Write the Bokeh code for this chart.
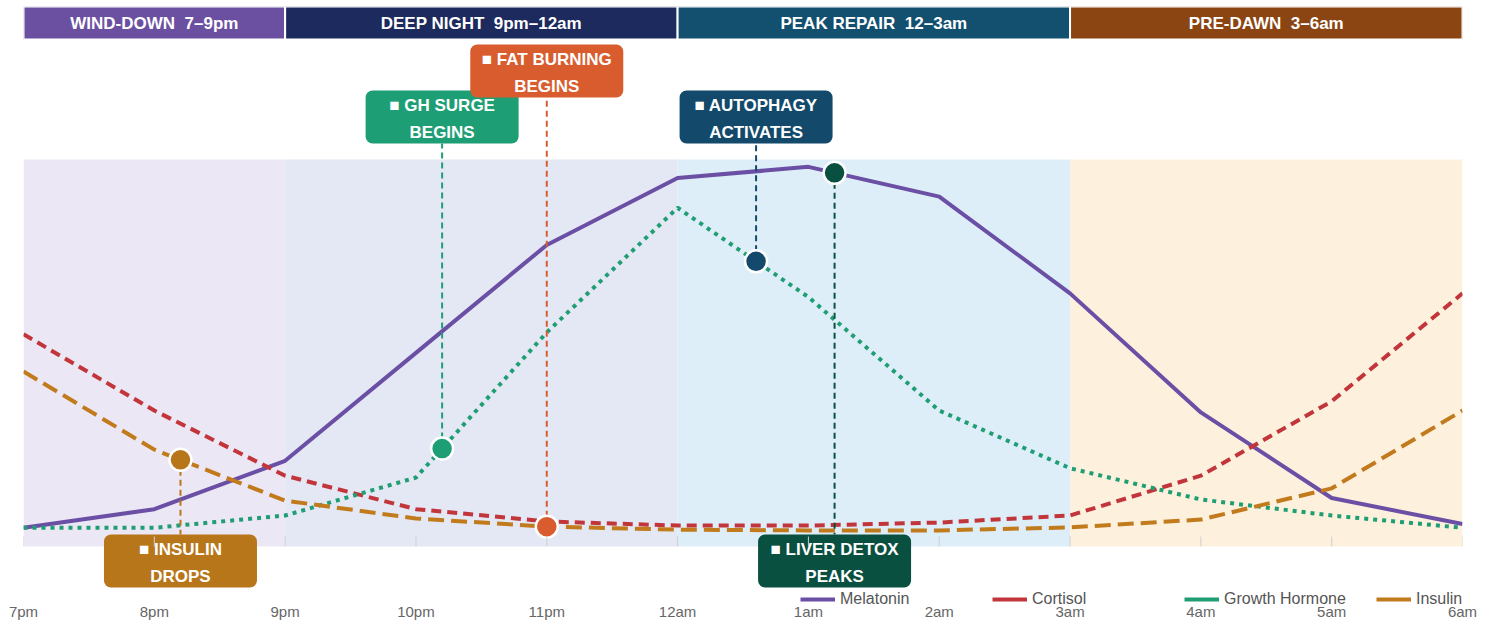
from bokeh.plotting import figure
from bokeh.models import Range1d, FixedTicker, Legend, LegendItem
from bokeh.embed import file_html
from bokeh.resources import INLINE
from bokeh.core.properties import value
import numpy as np

# ---------------- data ----------------
hours = list(range(12))
tick_labels = ["7pm", "8pm", "9pm", "10pm", "11pm", "12am", "1am", "2am", "3am", "4am", "5am", "6am"]

melatonin = [1, 6, 19, 48, 77, 95, 98, 90, 64, 32, 9, 2]
cortisol = [53, 32.5, 15, 6, 2.7, 1.6, 1.6, 2.4, 4.3, 15, 35, 64]
growth_hormone = [1, 1, 4.3, 14.5, 53.5, 87, 63, 32.5, 17, 8.6, 4.3, 1]
insulin = [43, 22, 8.3, 3.5, 1.3, 0.5, 0.3, 0.3, 1.1, 3.2, 11.6, 32.5]

phase_names = ["WIND-DOWN\u00a0 7–9pm", "DEEP NIGHT\u00a0 9pm–12am", "PEAK REPAIR\u00a0 12–3am", "PRE-DAWN\u00a0 3–6am"]
phase_start = [0, 2, 5, 8]
phase_end = [2, 5, 8, 11]

event_line1 = ["■ INSULIN", "■ GH SURGE", "■ FAT BURNING", "■ AUTOPHAGY", "■ LIVER DETOX"]
event_line2 = ["DROPS", "BEGINS", "BEGINS", "ACTIVATES", "PEAKS"]
event_hour = [1.2, 3.2, 4.0, 5.6, 6.2]
event_series = ["insulin", "growth", "insulin", "growth", "melatonin"]

legend_labels = ["Melatonin", "Cortisol", "Growth Hormone", "Insulin"]

# ---------------- styles / layout ----------------
FONT = "Liberation Sans"
series_colors = {"melatonin": "#6a4fa5", "cortisol": "#c1353b", "growth": "#1f9e74", "insulin": "#c27b1c"}
phase_header_colors = ["#6b50a1", "#1c2a5d", "#134f6f", "#8b4513"]
phase_bg_colors = ["#ece7f5", "#e4e8f4", "#ddeef8", "#fdf1de"]
event_colors = ["#b8761a", "#1e9e74", "#d95c2f", "#134a6b", "#0a5040"]

FRAME_TOP = 6
FRAME_BOTTOM = 611
Y0_PX = 531.0        # screen row of value 0
PX_PER_UNIT = 3.721  # vertical pixels per unit
def yv(screen_y):
    return (Y0_PX - screen_y) / PX_PER_UNIT

PX_PER_HOUR = 1439 / 11.0
box_w = 153 / PX_PER_HOUR
box_tops_px = [534, 90, 44, 90, 534]
BOX_H_PX = 53

series_data = {"melatonin": melatonin, "cortisol": cortisol, "growth": growth_hormone, "insulin": insulin}

p = figure(frame_width=1439, frame_height=FRAME_BOTTOM - FRAME_TOP, min_border_left=23, min_border_right=25,
           min_border_top=FRAME_TOP, min_border_bottom=0,
           x_range=Range1d(0, 11), y_range=Range1d(yv(FRAME_BOTTOM), yv(FRAME_TOP)),
           output_backend="svg", toolbar_location=None, y_axis_location=None)
p.outline_line_color = None
p.xgrid.visible = False
p.ygrid.visible = False
p.background_fill_color = "white"

# phase backgrounds
p.quad(left=phase_start, right=phase_end, bottom=yv(546), top=100,
       fill_color=phase_bg_colors, line_color=None)

# phase headers
p.quad(left=phase_start, right=phase_end, bottom=yv(39), top=yv(6),
       fill_color=phase_header_colors, line_color="white", line_width=2)
p.text(x=[(a + b) / 2 for a, b in zip(phase_start, phase_end)], y=[yv(22.5)] * 4, text=phase_names,
       text_color="white", text_font=value(FONT), text_font_style="bold", text_font_size="17px",
       text_align="center", text_baseline="middle")

# series
p.line(hours, melatonin, line_color=series_colors["melatonin"], line_width=4)
p.line(hours, cortisol, line_color=series_colors["cortisol"], line_width=4, line_dash="10 6")
p.line(hours, growth_hormone, line_color=series_colors["growth"], line_width=4, line_dash="4 5")
p.line(hours, insulin, line_color=series_colors["insulin"], line_width=4, line_dash="16 7")

# events
ev_y = [float(np.interp(h, hours, series_data[s])) for h, s in zip(event_hour, event_series)]
box_top = [yv(t) for t in box_tops_px]
box_bot = [yv(t + BOX_H_PX) for t in box_tops_px]
conn_end = [bt if t > 300 else bb for t, bt, bb in zip(box_tops_px, box_top, box_bot)]

p.segment(x0=event_hour, x1=event_hour, y0=ev_y, y1=conn_end, line_color=event_colors,
          line_width=2, line_dash="6 4")
p.scatter(x=event_hour, y=ev_y, size=22, fill_color=event_colors, line_color="white", line_width=2.5)

p.quad(left=[h - box_w / 2 for h in event_hour], right=[h + box_w / 2 for h in event_hour],
       top=box_top, bottom=box_bot, fill_color=event_colors, line_color=None, border_radius=7)
p.text(x=event_hour, y=[yv(t + 15) for t in box_tops_px], text=event_line1,
       text_color="white", text_font=value(FONT), text_font_style="bold", text_font_size="17px",
       text_align="center", text_baseline="middle")
p.text(x=event_hour, y=[yv(t + 42) for t in box_tops_px], text=event_line2,
       text_color="white", text_font=value(FONT), text_font_style="bold", text_font_size="17px",
       text_align="center", text_baseline="middle")

# tick marks
p.segment(x0=hours, x1=hours, y0=yv(546), y1=yv(536), line_color="#cfcfcf", line_width=1)

# x axis
ax = p.xaxis[0]
ax.ticker = FixedTicker(ticks=hours)
ax.major_label_overrides = {h: lab for h, lab in zip(hours, tick_labels)}
ax.axis_line_color = None
ax.major_tick_line_color = None
ax.minor_tick_line_color = None
ax.major_tick_out = 0
ax.major_tick_in = 0
ax.major_label_standoff = -9
ax.major_label_text_font = FONT
ax.major_label_text_font_size = "15px"
ax.major_label_text_color = "#666666"

# legend with solid proxies (single-point lines draw nothing in the plot)
series_keys = ["melatonin", "cortisol", "growth", "insulin"]
proxies = [p.line([hours[0]], [series_data[k][0]], line_color=series_colors[k], line_width=4)
           for k in series_keys]
legend = Legend(items=[LegendItem(label=n, renderers=[r]) for n, r in zip(legend_labels, proxies)],
                orientation="horizontal", location=(777, FRAME_BOTTOM - 609), padding=0, margin=0,
                spacing=5, glyph_width=35, glyph_height=20, label_standoff=5, label_width=147,
                label_height=20, label_text_font=FONT, label_text_font_size="16px",
                label_text_color="#555555", background_fill_alpha=0, border_line_color=None)
p.add_layout(legend)

open("out.html", "w").write(file_html(p, INLINE))
